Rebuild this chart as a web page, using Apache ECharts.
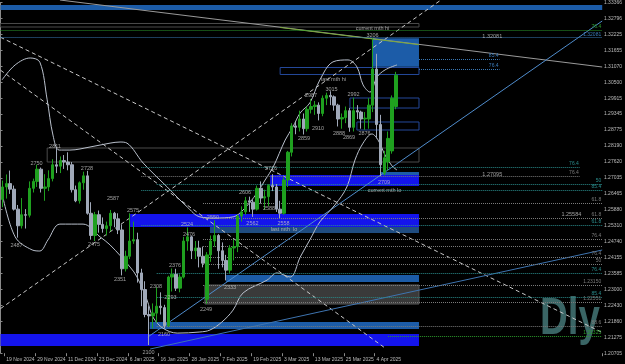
<!DOCTYPE html>
<html><head><meta charset="utf-8">
<script src="https://cdn.jsdelivr.net/npm/echarts/dist/echarts.min.js"></script>
<style>html,body{margin:0;padding:0;background:#000}#c{width:625px;height:364px}</style>
</head><body><div id="c"></div>
<script>
// ---- data ----
const dates = ['18 Nov 2024','19 Nov 2024','20 Nov 2024','21 Nov 2024','22 Nov 2024','25 Nov 2024','26 Nov 2024','27 Nov 2024','28 Nov 2024','29 Nov 2024',
'2 Dec 2024','3 Dec 2024','4 Dec 2024','5 Dec 2024','6 Dec 2024','9 Dec 2024','10 Dec 2024','11 Dec 2024','12 Dec 2024','13 Dec 2024','16 Dec 2024','17 Dec 2024','18 Dec 2024','19 Dec 2024','20 Dec 2024','23 Dec 2024','24 Dec 2024','26 Dec 2024','27 Dec 2024','30 Dec 2024','31 Dec 2024',
'2 Jan 2025','3 Jan 2025','6 Jan 2025','7 Jan 2025','8 Jan 2025','9 Jan 2025','10 Jan 2025','13 Jan 2025','14 Jan 2025','15 Jan 2025','16 Jan 2025','17 Jan 2025','20 Jan 2025','21 Jan 2025','22 Jan 2025','23 Jan 2025','24 Jan 2025','27 Jan 2025','28 Jan 2025','29 Jan 2025','30 Jan 2025','31 Jan 2025',
'3 Feb 2025','4 Feb 2025','5 Feb 2025','6 Feb 2025','7 Feb 2025','10 Feb 2025','11 Feb 2025','12 Feb 2025','13 Feb 2025','14 Feb 2025','17 Feb 2025','18 Feb 2025','19 Feb 2025','20 Feb 2025','21 Feb 2025','24 Feb 2025','25 Feb 2025','26 Feb 2025','27 Feb 2025','28 Feb 2025',
'3 Mar 2025','4 Mar 2025','5 Mar 2025','6 Mar 2025','7 Mar 2025','10 Mar 2025','11 Mar 2025','12 Mar 2025','13 Mar 2025','14 Mar 2025','17 Mar 2025','18 Mar 2025','19 Mar 2025','20 Mar 2025','21 Mar 2025','24 Mar 2025','25 Mar 2025','26 Mar 2025','27 Mar 2025','28 Mar 2025','31 Mar 2025',
'1 Apr 2025','2 Apr 2025','3 Apr 2025','4 Apr 2025','7 Apr 2025','8 Apr 2025','9 Apr 2025','10 Apr 2025','11 Apr 2025'];

// [open, close, low, high]
const candles = [
[1.2625,1.2670,1.2597,1.2693],[1.2670,1.2682,1.2628,1.2715],[1.2682,1.2662,1.2645,1.2729],[1.2662,1.2590,1.2585,1.2675],[1.2590,1.2530,1.2487,1.2605],
[1.2530,1.2570,1.2520,1.2630],[1.2570,1.2568,1.2520,1.2590],[1.2568,1.2665,1.2560,1.2690],[1.2665,1.2690,1.2650,1.2700],[1.2690,1.2734,1.2670,1.2750],
[1.2734,1.2665,1.2650,1.2740],[1.2665,1.2670,1.2620,1.2716],[1.2670,1.2700,1.2655,1.2730],[1.2700,1.2750,1.2690,1.2770],[1.2750,1.2745,1.2720,1.2811],
[1.2745,1.2765,1.2720,1.2780],[1.2765,1.2760,1.2735,1.2785],[1.2760,1.2750,1.2730,1.2795],[1.2750,1.2660,1.2650,1.2760],[1.2660,1.2620,1.2615,1.2675],
[1.2620,1.2685,1.2610,1.2690],[1.2685,1.2710,1.2660,1.2725],[1.2710,1.2575,1.2570,1.2728],[1.2575,1.2495,1.2480,1.2615],[1.2495,1.2570,1.2475,1.2580],
[1.2570,1.2535,1.2505,1.2585],[1.2535,1.2520,1.2505,1.2560],[1.2520,1.2530,1.2495,1.2545],[1.2530,1.2575,1.2510,1.2587],[1.2575,1.2555,1.2525,1.2580],
[1.2555,1.2515,1.2500,1.2575],[1.2515,1.2375,1.2351,1.2535],[1.2375,1.2420,1.2365,1.2440],[1.2420,1.2475,1.2410,1.2575],[1.2475,1.2480,1.2465,1.2545],
[1.2480,1.2360,1.2325,1.2505],[1.2360,1.2300,1.2240,1.2375],[1.2300,1.2210,1.2200,1.2330],[1.2210,1.2205,1.2100,1.2240],[1.2205,1.2215,1.2160,1.2250],
[1.2215,1.2240,1.2180,1.2308],[1.2240,1.2235,1.2210,1.2290],[1.2235,1.2170,1.2160,1.2245],[1.2170,1.2345,1.2165,1.2350],[1.2345,1.2355,1.2293,1.2376],
[1.2355,1.2305,1.2295,1.2375],[1.2305,1.2345,1.2290,1.2355],[1.2345,1.2475,1.2340,1.2490],[1.2475,1.2490,1.2440,1.2524],[1.2490,1.2440,1.2410,1.2495],
[1.2440,1.2450,1.2410,1.2475],[1.2450,1.2420,1.2380,1.2476],[1.2420,1.2395,1.2380,1.2455],[1.2265,1.2425,1.2249,1.2435],[1.2425,1.2475,1.2400,1.2495],
[1.2475,1.2495,1.2455,1.2550],[1.2495,1.2440,1.2375,1.2500],[1.2440,1.2405,1.2380,1.2470],[1.2405,1.2370,1.2333,1.2425],[1.2370,1.2450,1.2360,1.2460],
[1.2450,1.2455,1.2405,1.2480],[1.2455,1.2565,1.2435,1.2570],[1.2565,1.2580,1.2545,1.2600],[1.2580,1.2620,1.2570,1.2634],[1.2620,1.2615,1.2580,1.2635],
[1.2615,1.2590,1.2562,1.2625],[1.2590,1.2665,1.2585,1.2675],[1.2665,1.2630,1.2610,1.2690],[1.2630,1.2635,1.2588,1.2660],[1.2635,1.2675,1.2600,1.2680],
[1.2675,1.2670,1.2655,1.2716],[1.2670,1.2590,1.2580,1.2680],[1.2590,1.2575,1.2558,1.2620],[1.2575,1.2695,1.2570,1.2705],[1.2695,1.2795,1.2670,1.2800],
[1.2795,1.2890,1.2780,1.2900],[1.2890,1.2885,1.2860,1.2905],[1.2885,1.2915,1.2870,1.2945],[1.2915,1.2880,1.2859,1.2935],[1.2880,1.2950,1.2870,1.2960],
[1.2950,1.2960,1.2935,1.2987],[1.2960,1.2965,1.2930,1.2980],[1.2965,1.2935,1.2910,1.2975],[1.2935,1.2990,1.2925,1.3000],[1.2990,1.3000,1.2965,1.3010],
[1.3000,1.2995,1.2965,1.3015],[1.2995,1.2965,1.2945,1.3000],[1.2965,1.2915,1.2888,1.2970],[1.2915,1.2920,1.2880,1.2935],[1.2920,1.2945,1.2900,1.2960],
[1.2945,1.2885,1.2869,1.2955],[1.2885,1.2945,1.2870,1.2992],[1.2945,1.2940,1.2915,1.2965],[1.2940,1.2915,1.2880,1.2945],[1.2915,1.2918,1.2876,1.2940],
[1.2915,1.2965,1.2880,1.2990],[1.2965,1.3095,1.2940,1.3206],[1.3095,1.2895,1.2845,1.3150],[1.2895,1.2750,1.2709,1.2930],[1.2720,1.2775,1.2712,1.2800],
[1.2760,1.2845,1.2730,1.2870],[1.2800,1.2990,1.2790,1.3000],[1.2960,1.3073,1.2950,1.3085]];

const tickDates = ['19 Nov 2024','29 Nov 2024','11 Dec 2024','23 Dec 2024','6 Jan 2025','16 Jan 2025','28 Jan 2025','7 Feb 2025','19 Feb 2025','3 Mar 2025','13 Mar 2025','25 Mar 2025','4 Apr 2025'];
const priceTicks = ['1.20705','1.21275','1.21860','1.22430','1.23000','1.23585','1.24155','1.24740','1.25310','1.25880','1.26465','1.27035','1.27620','1.28190','1.28775','1.29345','1.29915','1.30500','1.31070','1.31655','1.32225','1.32796','1.33366'];
const currentPrice = 1.30733;

// Bollinger bands [bar, price]
const upperBand = [[-0.1,1.3056],[3.3,1.3110],[7.2,1.3135],[9.7,1.3120],[11.6,1.2984],[13.1,1.2857],[14.7,1.2803],[17.5,1.2803],[22.7,1.2814],[27.9,1.2828],[30.5,1.2832],[32.3,1.2828],[36.5,1.2756],[42.7,1.2670],[47.9,1.2598],[51.2,1.2562],[55.1,1.2558],[59.8,1.2562],[62.4,1.2587],[66.0,1.2648],[68.1,1.2695],[70.2,1.2742],[73.3,1.2839],[75.3,1.2886],[77.2,1.2937],[79.7,1.2973],[82.3,1.3056],[85.7,1.3121],[89.6,1.3128],[91.9,1.3103],[93.5,1.3038],[95.3,1.3012],[97.1,1.3066],[99.2,1.3092],[102.3,1.3110]];
const lowerBand = [[-0.1,1.2648],[3.3,1.2490],[7.7,1.2443],[9.7,1.2439],[11.8,1.2479],[14.9,1.2536],[20.9,1.2536],[25.3,1.2490],[27.9,1.2461],[33.1,1.2381],[34.9,1.2345],[37.5,1.2262],[39.0,1.2201],[41.6,1.2161],[45.3,1.2143],[51.2,1.2147],[53.8,1.2154],[56.9,1.2183],[59.8,1.2226],[62.4,1.2288],[68.6,1.2334],[71.2,1.2360],[74.6,1.2345],[77.2,1.2417],[79.7,1.2479],[82.3,1.2544],[86.2,1.2605],[89.3,1.2670],[91.4,1.2767],[93.5,1.2828],[95.8,1.2861],[97.4,1.2839],[99.2,1.2785],[101.0,1.2746],[102.3,1.2731]];

// zones [fromBar, toBar, topPrice, bottomPrice, kind]
const zones = [
[-0.5,155.5,1.33260,1.33080,'steel'],
[95.8,108,1.32060,1.31030,'steel'],
[72,108,1.31007,1.30755,'outline'],
[90.1,108,1.29907,1.29546,'outline'],
[91.9,108,1.29042,1.28753,'outline'],
[11.6,108,1.28104,1.27599,'outlineGray'],
[-0.5,108,1.32594,1.32467,'outlineGray'],
[97.9,108,1.27239,1.27131,'steel'],
[69.4,108,1.27131,1.26734,'blue'],
[33.1,108,1.25724,1.25255,'blue'],
[53.8,108,1.25255,1.25039,'teal'],
[58,108,1.23525,1.23272,'steel'],
[52.5,108,1.23164,1.22478,'gray'],
[38.2,108,1.21830,1.21577,'steel'],
[-0.5,108,1.21397,1.20965,'blue']];

// fib levels [price, fromBar, toBar, kind, label]
const fibLevels = [
[1.32359,-0.5,155.5,'green','76.4'],
[1.32081,-0.5,155.5,'blueDot','1.32081'],
[1.31313,108,128.9,'blueDot','85.4'],
[1.30953,108,128.9,'blueDot','76.4'],
[1.27419,36,149.7,'teal','76.4'],
[1.27095,36,149.7,'grayDot','76.4'],
[1.26806,40,155.5,'teal','50'],
[1.26590,36,155.5,'teal','85.4'],
[1.26121,52,155.5,'grayDot','61.8'],
[1.25584,52,155.5,'grayDot','61.8'],
[1.25327,36,155.5,'teal','61.8'],
[1.24823,52,155.5,'grayDot','76.4'],
[1.24570,52,155.5,'grayDot',''],
[1.24173,52,155.5,'grayDot','76.4'],
[1.23921,52,155.5,'grayDot','50'],
[1.23597,40,155.5,'teal','76.4'],
[1.23150,52,155.5,'grayDot','1.23150'],
[1.22731,40,155.5,'teal','85.4'],
[1.22551,52,155.5,'grayDot','1.22551'],
[1.21685,40,155.5,'grayDot','88.6'],
[1.21325,100,155.5,'green','1.21325']];

// trend lines [bar0, price0, bar1, price1, kind]
const trendLines = [
[-0.5,1.32098,155.5,1.21451,'dash'],
[-0.5,1.30910,99.2,1.20892,'dash'],
[-0.5,1.22313,113.7,1.33441,'dash'],
[14.9,1.33441,155.5,1.31025,'gray'],
[72,1.3245,108,1.3183,'green'],
[38.3,1.20856,155.5,1.24426,'steelLine'],
[37.7,1.21289,155.5,1.32684,'blueLine']];

// text labels [text, bar, price]
const priceLabels = [
['2811',13.63,1.28176],['2750',8.83,1.27563],['2728',21.92,1.27383],['2487',3.65,1.24606],['2475',23.74,1.24642],
['2587',28.67,1.26301],['2575',33.85,1.25868],['2524',47.85,1.25364],['2476',48.37,1.25003],['2351',30.48,1.23380],
['2376',44.74,1.23885],['2308',39.81,1.23128],['2293',43.57,1.22731],['2160',41.89,1.21397],['2100',37.87,1.20748],
['2249',52.78,1.22298],['2333',59.0,1.23092],['2550',54.59,1.25616],['2606',62.89,1.26517],['2716',69.63,1.27383],
['2588',69.11,1.25940],['2562',64.83,1.25400],['2558',72.87,1.25400],['last mth  lo',73.0,1.25183],['2709',98.93,1.26878],
['current mth lo',99.06,1.26590],['2859',78.19,1.28465],['2910',81.82,1.28825],['2987',80.0,1.30015],['3015',85.32,1.30232],
['last mth hi',85.84,1.30592],['2888',87.26,1.28645],['2869',89.86,1.28501],['2992',91.02,1.30051],['2876',93.87,1.28645],
['3206',95.95,1.32179],['current mth hi',95.95,1.32431],
['1.27095',127,1.27167],['1.25584',147.5,1.25692],['1.32081',127,1.32143]];

// ---- styles ----
const zoneStyle = {
  steel:{color:'#1c5ca8'}, blue:{color:'#1414ec'}, teal:{color:'#1f4c80'},
  gray:{color:'#3a3a3a', borderColor:'#5a5a5a', borderWidth:1},
  outline:{color:'rgba(0,0,0,0)', borderColor:'#24489a', borderWidth:1},
  outlineGray:{color:'rgba(0,0,0,0)', borderColor:'#4a4a4a', borderWidth:1}
};
const fibStyle = {
  green:{color:'#2c9a2c', type:'dotted'}, blueDot:{color:'#3a7ab8', type:'dotted'},
  teal:{color:'#2a8c8c', type:'dotted'}, grayDot:{color:'#7a7a7a', type:'dotted'}
};
const lineStyleMap = {
  dash:{color:'#c8c8c8', width:1, type:[4,3]}, gray:{color:'#9a9a9a', width:1, type:'solid'},
  green:{color:'#7aa83a', width:1, type:'solid'}, steelLine:{color:'#3e74b0', width:1, type:'solid'},
  blueLine:{color:'#4f8ccc', width:1, type:'solid'}
};

const SLOTS = 156;
const cats = dates.concat(Array.from({length: SLOTS - dates.length}, (_, i) => 'f' + i));
const isTick = (i, v) => tickDates.indexOf(v) >= 0;

const chart = echarts.init(document.getElementById('c'), null, {renderer:'canvas'});
const series = [];

series.push({
  type:'line', xAxisIndex:1, yAxisIndex:0, data:[], z:1, silent:true,
  markArea:{silent:true, z:1, data: zones.map(z => [
    {coord:[z[0], z[2]], itemStyle: zoneStyle[z[4]]}, {coord:[z[1], z[3]]}])}
});
series.push({
  type:'line', xAxisIndex:1, yAxisIndex:0, data:[], z:2, silent:true,
  markLine:{silent:true, symbol:['none','none'], animation:false,
    data: fibLevels.map(f => [
      {coord:[f[1], f[0]], lineStyle:{color:fibStyle[f[3]].color, type:fibStyle[f[3]].type, width:1},
       label:{show: f[4] !== '', formatter: f[4], position:'insideEndTop', distance:1, fontSize:5,
              color:fibStyle[f[3]].color, fontFamily:'Liberation Sans'}},
      {coord:[f[2], f[0]]}]).concat([[
      {yAxis: currentPrice, lineStyle:{opacity:0},
       label:{show:true, position:'end', formatter: currentPrice.toFixed(5), distance:2, fontSize:5,
              color:'#000', backgroundColor:'#c4c4c4', padding:[1,1,1,1], fontFamily:'Liberation Sans'}},
      {yAxis: currentPrice}]])}
});
trendLines.forEach(t => series.push({
  type:'line', xAxisIndex:1, yAxisIndex:0, z:3, silent:true, showSymbol:false, symbol:'none',
  data:[[t[0], t[1]], [t[2], t[3]]], lineStyle: lineStyleMap[t[4]]
}));
[upperBand, lowerBand].forEach(b => series.push({
  type:'line', xAxisIndex:1, yAxisIndex:0, z:4, silent:true, smooth:0.35, showSymbol:false, symbol:'none',
  data:b, lineStyle:{color:'#b9c0cc', width:1}
}));
series.push({
  type:'candlestick', xAxisIndex:0, yAxisIndex:0, z:5, barWidth:3, silent:true,
  data: candles,
  itemStyle:{color:'#1fa01f', color0:'#a0a9b9', borderColor:'#1fa01f', borderColor0:'#a0a9b9', borderWidth:1}
});
series.push({
  type:'scatter', xAxisIndex:1, yAxisIndex:0, z:6, silent:true, symbolSize:0, clip:false,
  data: priceLabels.map(l => ({name:l[0], value:[l[1], l[2]]})),
  label:{show:true, position:'inside', formatter:'{b}', fontSize:5.5, color:'#c6c6c6', fontFamily:'Liberation Sans'}
});

chart.setOption({
  backgroundColor:'#000',
  animation:false,
  grid:[
    {left:0.51, right:22.8, top:0, bottom:10.8, containLabel:false},
    {left:0.51, right:22.8, top:2.08, bottom:10.8, containLabel:false}
  ],
  xAxis:[
    {type:'category', gridIndex:0, data:cats, boundaryGap:true,
     axisLine:{show:false},
     axisTick:{show:true, interval:isTick, length:3, lineStyle:{color:'#8a8a8a'}},
     axisLabel:{show:true, interval:isTick, align:'left', fontSize:5, color:'#bcbcbc', margin:4, fontFamily:'Liberation Sans', hideOverlap:false},
     splitLine:{show:false}},
    {type:'value', gridIndex:0, min:-0.5, max:155.5, show:false},
    {type:'value', gridIndex:1, min:0, max:1, show:false}
  ],
  yAxis:[
    {type:'value', gridIndex:0, min:1.20705, max:1.33441, show:false, splitLine:{show:false}},
    {type:'value', gridIndex:1, min:0, max:22, interval:1, position:'right',
     axisLine:{show:true, lineStyle:{color:'#8a8a8a'}},
     axisTick:{show:true, length:2, lineStyle:{color:'#8a8a8a'}},
     axisLabel:{show:true, fontSize:5, color:'#bcbcbc', margin:3, fontFamily:'Liberation Sans',
       formatter: v => priceTicks[Math.round(v)] || '', showMinLabel:true, showMaxLabel:true},
     splitLine:{show:false}}
  ],
  graphic:[{type:'text', x:540, y:294, scaleX:0.74, scaleY:1, z:0, silent:true,
    style:{text:'Dly', font:'bold 52px "Liberation Sans", Arial, sans-serif', fill:'#3a6565'}}],
  series: series
});
</script></body></html>
